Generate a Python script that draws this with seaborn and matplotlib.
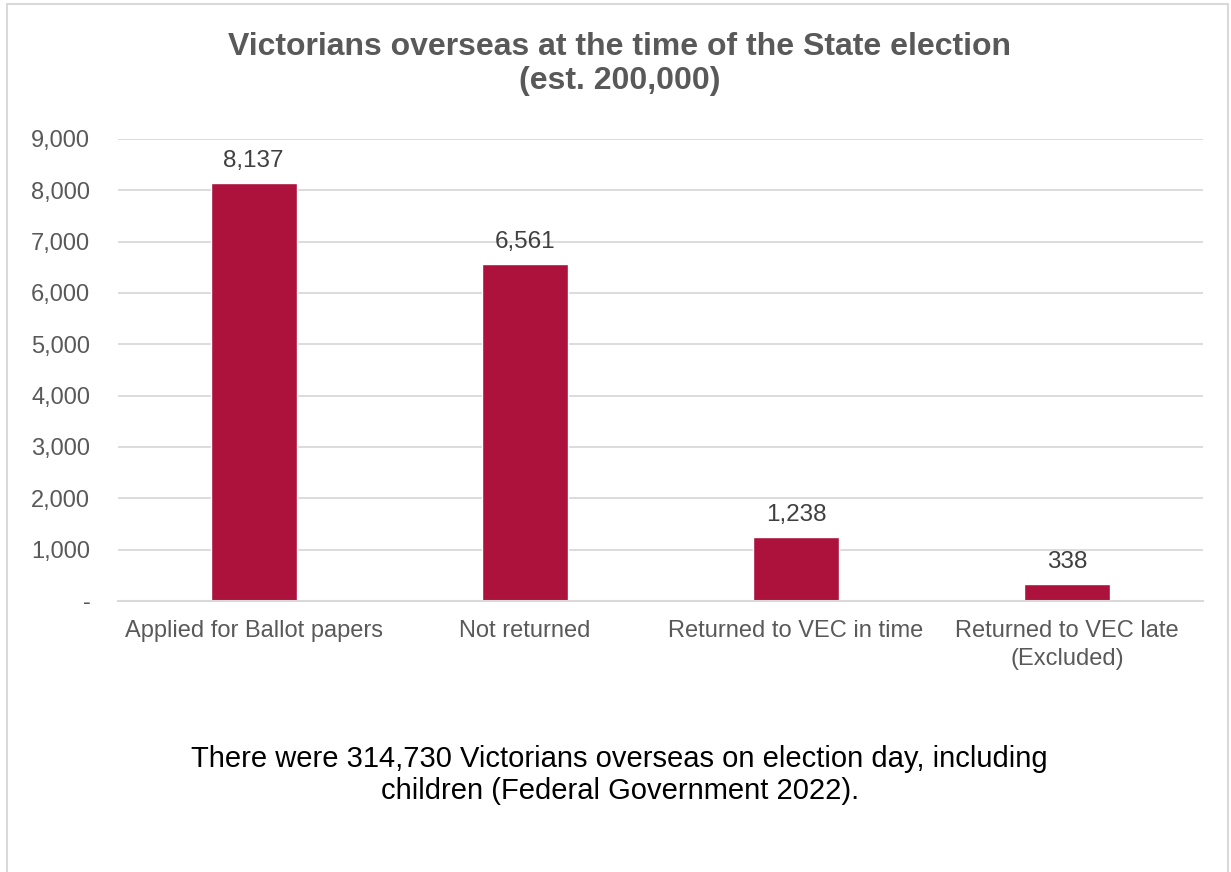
import numpy as np
import pandas as pd
import matplotlib
matplotlib.use('Agg')
import matplotlib.pyplot as plt
import seaborn as sns
from matplotlib.ticker import FuncFormatter
from matplotlib.patches import Rectangle

# data
categories = ['Applied for Ballot papers', 'Not returned', 'Returned to VEC in time',
              'Returned to VEC late\n(Excluded)']
values = [8137, 6561, 1238, 338]
yticks = [0, 1000, 2000, 3000, 4000, 5000, 6000, 7000, 8000, 9000]

title = 'Victorians overseas at the time of the State election\n(est. 200,000)'
footer = ('There were 314,730 Victorians overseas on election day, including\n'
          'children (Federal Government 2022).')

df = pd.DataFrame({'category': categories, 'value': values})

sns.set_theme(style='white')
plt.rcParams['font.family'] = ['Liberation Sans', 'DejaVu Sans']

BAR = '#ac123b'
GREY = '#595959'

fig = plt.figure(figsize=(12.31, 8.72), dpi=100)
ax = fig.add_axes([0.0959, 0.3108, 0.8811, 0.5298])

sns.barplot(data=df, x='category', y='value', color=BAR, width=0.317,
            saturation=1, ax=ax)

ax.set_ylim(0, 9000)
ax.set_yticks(yticks)
ax.yaxis.set_major_formatter(FuncFormatter(lambda v, p: '-' if v == 0 else f'{v:,.0f}'))
ax.grid(axis='y', color='#d9d9d9', linewidth=1.3)
ax.set_axisbelow(True)
for s in ['top', 'right', 'left']:
    ax.spines[s].set_visible(False)
ax.spines['bottom'].set_color('#d9d9d9')
ax.spines['bottom'].set_linewidth(1.5)
ax.tick_params(axis='both', length=0, labelsize=17, labelcolor=GREY)
ax.tick_params(axis='y', pad=20)
ax.tick_params(axis='x', pad=14)
for lbl in ax.get_xticklabels():
    lbl.set_linespacing(1.3)
ax.set_xlabel('')
ax.set_ylabel('')
ax.set_xlim(-0.5, len(categories) - 0.5)

for c in ax.containers:
    ax.bar_label(c, labels=[f'{v:,}' for v in values], padding=8,
                 fontsize=17.5, color='#404040')

fig.text(0.5035, 0.927, title, ha='center', va='center', fontsize=23,
         fontweight='bold', color=GREY, linespacing=1.18)
fig.text(0.5035, 0.1115, footer, ha='center', va='center', fontsize=21,
         color='black', linespacing=1.2)

# light chart-area border
fig.patches.append(Rectangle((7 / 1231, -0.01), 1221 / 1231, 1 - 4 / 872 + 0.01,
                             transform=fig.transFigure, fill=False,
                             edgecolor='#d9d9d9', linewidth=1.5))

fig.savefig('out.png', dpi=100)
